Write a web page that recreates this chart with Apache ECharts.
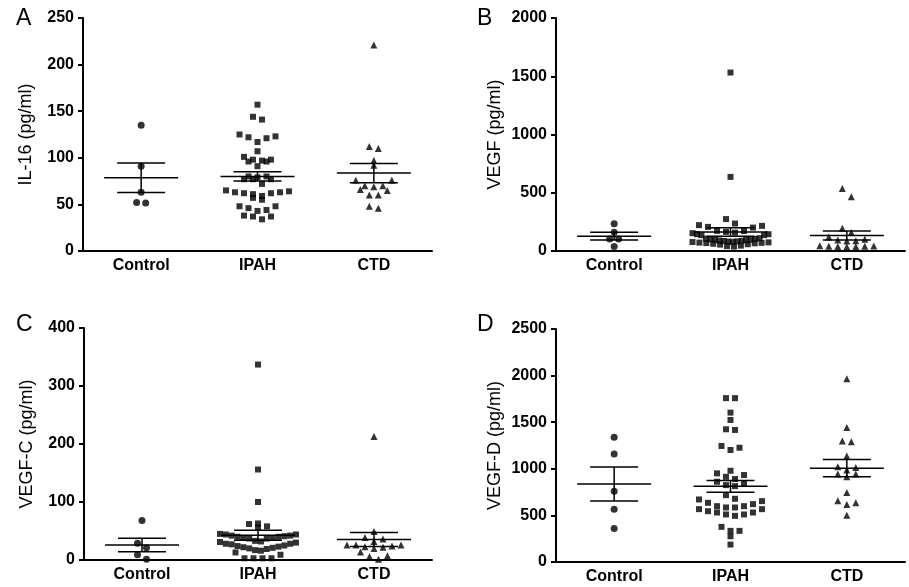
<!DOCTYPE html>
<html>
<head>
<meta charset="utf-8">
<script src="https://cdn.jsdelivr.net/npm/echarts@6/dist/echarts.min.js"></script>
<style>
html, body { margin: 0; padding: 0; background: #fff; }
#chart { width: 909px; height: 587px; }
</style>
</head>
<body>
<div id="chart"></div>
<script>
var categories = ['Control', 'IPAH', 'CTD'];

// A - IL-16 (pg/ml)
var il16Control = [135, 91, 63, 52, 51.5];
var il16Ipah = [157, 144, 141, 125, 122, 117, 121, 123, 107, 98, 96, 96, 101, 98, 97, 91,
  80, 80, 77, 77, 77, 79, 72, 64, 63, 61, 59, 55, 57, 62, 62, 63, 65, 48, 46, 44, 48, 43,
  37, 34, 37, 38];
var il16Ctd = [221, 112, 110, 97, 92, 76, 76, 70, 69, 70, 66, 65, 60, 60, 48, 46];

// B - VEGF (pg/ml)
var vegfControl = [233, 160, 103, 103, 38];
var vegfIpah = [1532, 636, 274, 236, 222, 207, 201, 216, 173, 158, 144, 136, 153, 144, 136,
  164, 172, 110, 106, 100, 97, 94, 90, 86, 83, 79, 74, 70, 66, 58, 42, 38, 46, 55, 62, 68,
  72, 77, 81, 88, 96, 104];
var vegfCtd = [537, 465, 196, 158, 95, 88, 44, 40, 38, 37, 38, 40, 43, 86, 100, 120];

// C - VEGF-C (pg/ml)
var vegfcControl = [68, 29, 21, 9, 1.5];
var vegfcIpah = [337, 156, 100, 63, 62, 58, 56, 45, 44, 42, 41, 40, 38, 37, 37, 38, 40, 42,
  44, 33, 31, 28, 27, 24, 22, 20, 19, 21, 23, 25, 28, 30, 32, 16, 9, 3, 3, 3, 3, 13, 17];
var vegfcCtd = [213, 49, 39, 36, 32, 26, 23, 20, 22, 14, 24, 26, 26, 7.5, 1.5, 6];

// D - VEGF-D (pg/ml)
var vegfdControl = [1338, 1158, 760, 567, 359];
var vegfdIpah = [1758, 1758, 1603, 1524, 1417, 1424, 1226, 1202, 1245, 951, 914, 933, 979,
  861, 890, 825, 814, 843, 717, 671, 635, 599, 599, 621, 653, 678, 585, 567, 531, 510, 495,
  510, 531, 545, 567, 585, 334, 334, 377, 276, 187];
var vegfdCtd = [1965, 1442, 1291, 1298, 1137, 986, 1022, 943, 1015, 943, 914, 746, 635, 617,
  656, 502];

var symbols = ['circle', 'rect', 'triangle'];
var symbolSizes = [7, 6, 7];

var panels = [
  { letter: 'A', name: 'IL-16 (pg/ml)', max: 250, interval: 50, groups: [il16Control, il16Ipah, il16Ctd],
    grid: { left: 83, top: 18, width: 349, height: 233 }, nameGap: 48, lx: 16, ly: 7 },
  { letter: 'B', name: 'VEGF (pg/ml)', max: 2000, interval: 500, groups: [vegfControl, vegfIpah, vegfCtd],
    grid: { left: 556, top: 18, width: 349, height: 233 }, nameGap: 52, lx: 477, ly: 7 },
  { letter: 'C', name: 'VEGF-C (pg/ml)', max: 400, interval: 100, groups: [vegfcControl, vegfcIpah, vegfcCtd],
    grid: { left: 84, top: 328, width: 348, height: 232 }, nameGap: 48, lx: 16, ly: 313 },
  { letter: 'D', name: 'VEGF-D (pg/ml)', max: 2500, interval: 500, groups: [vegfdControl, vegfdIpah, vegfdCtd],
    grid: { left: 556, top: 329, width: 349, height: 233 }, nameGap: 52, lx: 477, ly: 313 }
];

// scatter-dot layout: values binned by pixel rows, lowest value in the middle of a row
function swarm(values, pxPerUnit) {
  var binPx = 9, step = 9, maxSpan = 76;
  var bins = {};
  values.forEach(function (v) {
    var b = Math.floor(v * pxPerUnit / binPx);
    (bins[b] = bins[b] || []).push(v);
  });
  var out = [];
  Object.keys(bins).forEach(function (k) {
    var row = bins[k].slice().sort(function (a, b) { return a - b; });
    var n = row.length;
    var gap = n > 1 ? Math.min(step, maxSpan / (n - 1)) : 0;
    row.forEach(function (v, i) {
      var slot;
      if (n % 2) slot = i === 0 ? 0 : (i % 2 ? (i + 1) / 2 : -i / 2);
      else slot = (i % 2 ? -1 : 1) * (Math.floor(i / 2) + 0.5);
      out.push({ v: v, dx: slot * gap });
    });
  });
  return out;
}

function meanSem(values) {
  var n = values.length;
  var m = values.reduce(function (s, v) { return s + v; }, 0) / n;
  var ss = values.reduce(function (s, v) { return s + (v - m) * (v - m); }, 0);
  var sem = Math.sqrt(ss / (n - 1)) / Math.sqrt(n);
  return [m, m - sem, m + sem];
}

var font = 'Liberation Sans, Arial, sans-serif';
var grids = [], xAxes = [], yAxes = [], series = [], graphics = [];

panels.forEach(function (p, pi) {
  grids.push(p.grid);
  xAxes.push({
    type: 'category', gridIndex: pi, data: categories,
    axisLine: { lineStyle: { color: '#000', width: 2 } },
    axisTick: { show: false },
    axisLabel: { color: '#000', fontFamily: font, fontWeight: 'bold', fontSize: 16, margin: 7 }
  });
  yAxes.push({
    type: 'value', gridIndex: pi, min: 0, max: p.max, interval: p.interval,
    name: p.name, nameLocation: 'middle', nameGap: p.nameGap,
    nameTextStyle: { color: '#000', fontFamily: font, fontSize: 18 },
    axisLine: { show: true, lineStyle: { color: '#000', width: 2 } },
    axisTick: { show: true, length: 5, lineStyle: { color: '#000', width: 2 } },
    axisLabel: {
      color: '#000', fontFamily: font, fontWeight: 'bold', fontSize: 16, margin: 9,
      formatter: function (v) { return String(v); }
    },
    splitLine: { show: false }
  });
  var pxPerUnit = p.grid.height / p.max;
  var stats = [];
  p.groups.forEach(function (vals, ci) {
    var pts = swarm(vals, pxPerUnit);
    series.push({
      type: 'scatter', xAxisIndex: pi, yAxisIndex: pi,
      symbol: symbols[ci], symbolSize: symbolSizes[ci],
      itemStyle: { color: '#000' },
      silent: true,
      data: pts.map(function (d) {
        return { value: [ci, d.v], symbolOffset: [d.dx, 0] };
      })
    });
    var s = meanSem(vals);
    stats.push([ci, s[0], s[1], s[2]]);
  });
  series.push({
    type: 'custom', xAxisIndex: pi, yAxisIndex: pi, silent: true, z: 5,
    encode: { x: 0, y: [1, 2, 3] },
    data: stats,
    renderItem: function (params, api) {
      var c = api.coord([api.value(0), api.value(1)]);
      var lo = api.coord([api.value(0), api.value(2)]);
      var hi = api.coord([api.value(0), api.value(3)]);
      var st = { stroke: '#000', lineWidth: 1.5 };
      return {
        type: 'group',
        children: [
          { type: 'line', shape: { x1: c[0] - 37, y1: c[1], x2: c[0] + 37, y2: c[1] }, style: st },
          { type: 'line', shape: { x1: c[0] - 24, y1: hi[1], x2: c[0] + 24, y2: hi[1] }, style: st },
          { type: 'line', shape: { x1: c[0] - 24, y1: lo[1], x2: c[0] + 24, y2: lo[1] }, style: st },
          { type: 'line', shape: { x1: c[0], y1: hi[1], x2: c[0], y2: lo[1] }, style: st }
        ]
      };
    }
  });
  graphics.push({
    type: 'text', left: p.lx, top: p.ly,
    style: { text: p.letter, fill: '#000', fontFamily: font, fontSize: 23 }
  });
});

var chart = echarts.init(document.getElementById('chart'));
chart.setOption({
  animation: false,
  backgroundColor: '#fff',
  grid: grids,
  xAxis: xAxes,
  yAxis: yAxes,
  series: series,
  graphic: graphics
});
</script>
</body>
</html>
